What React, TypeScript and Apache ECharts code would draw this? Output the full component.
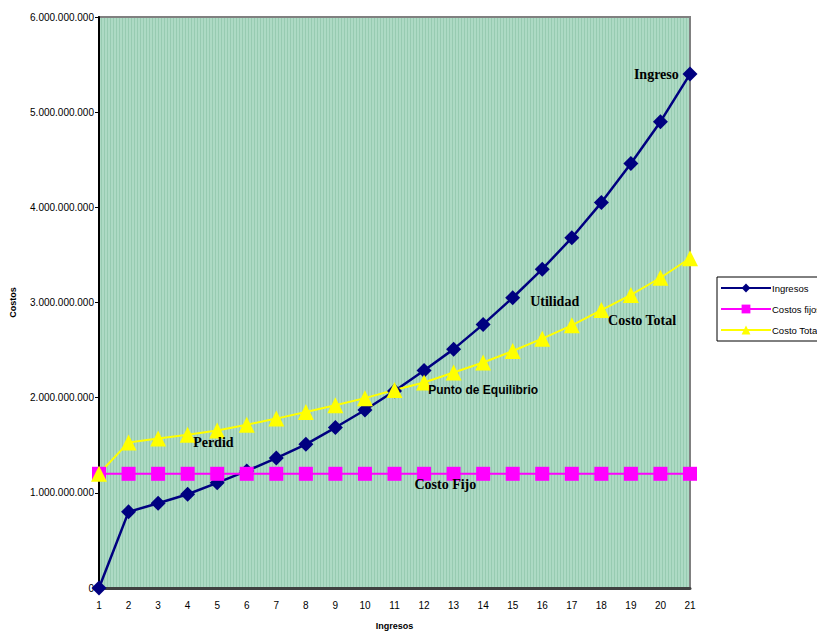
import React, { useEffect, useRef } from "react";
import * as echarts from "echarts";

// Period numbers on the horizontal axis
const periods = [1, 2, 3, 4, 5, 6, 7, 8, 9, 10, 11, 12, 13, 14, 15, 16, 17, 18, 19, 20, 21];

// Revenue per period
const ingresos = [
  0, 800000000, 890000000, 985000000, 1105000000, 1230000000, 1365000000, 1510000000,
  1686000000, 1870000000, 2070000000, 2285000000, 2510000000, 2770000000, 3050000000,
  3350000000, 3680000000, 4050000000, 4460000000, 4900000000, 5400000000,
];

// Fixed costs per period
const costosFijos = [
  1200000000, 1200000000, 1200000000, 1200000000, 1200000000, 1200000000, 1200000000,
  1200000000, 1200000000, 1200000000, 1200000000, 1200000000, 1200000000, 1200000000,
  1200000000, 1200000000, 1200000000, 1200000000, 1200000000, 1200000000, 1200000000,
];

// Total costs per period
const costoTotal = [
  1200000000, 1530000000, 1570000000, 1610000000, 1655000000, 1715000000, 1780000000,
  1850000000, 1920000000, 1995000000, 2080000000, 2160000000, 2265000000, 2370000000,
  2490000000, 2620000000, 2760000000, 2920000000, 3080000000, 3260000000, 3465000000,
];

// Text notes placed in data space: [label, x (period), y (value), font]
const notes: [string, number, number, string][] = [
  ["Ingreso", 19.86, 5400000000, "serif"],
  ["Utilidad", 16.42, 3010000000, "serif"],
  ["Costo Total", 19.38, 2810000000, "serif"],
  ["Punto de Equilibrio", 14.0, 2080000000, "sans"],
  ["Perdid", 4.87, 1530000000, "serif"],
  ["Costo Fijo", 12.72, 1086000000, "serif"],
];

const fmtThousands = (v: number) =>
  String(Math.round(v)).replace(/\B(?=(\d{3})+(?!\d))/g, ".");

// Fine vertical stripes for the plot background
function stripePattern(): HTMLCanvasElement {
  const c = document.createElement("canvas");
  c.width = 3;
  c.height = 4;
  const ctx = c.getContext("2d")!;
  ctx.fillStyle = "#addac4";
  ctx.fillRect(0, 0, 3, 4);
  ctx.fillStyle = "#97cbb1";
  ctx.fillRect(2, 0, 1, 4);
  return c;
}

export default function App() {
  const ref = useRef<HTMLDivElement>(null);

  useEffect(() => {
    if (!ref.current) return;
    const chart = echarts.init(ref.current, undefined, { renderer: "svg" });
    const sans = "Arial, 'Liberation Sans', sans-serif";
    const serif = "'Book Antiqua', Palatino, 'Liberation Serif', serif";

    let bg: any = "#a6d5bd";
    try {
      bg = { image: stripePattern(), repeat: "repeat" };
    } catch (e) {
      bg = "#a6d5bd";
    }

    chart.setOption({
      animation: false,
      backgroundColor: "#ffffff",
      grid: {
        left: 96,
        right: 127,
        top: 17,
        bottom: 38,
        show: true,
        backgroundColor: bg,
        borderColor: "#808080",
        borderWidth: 2,
      },
      legend: {
        orient: "vertical",
        left: 717,
        top: 277,
        borderColor: "#000000",
        borderWidth: 1,
        padding: [6, 8, 6, 3],
        itemGap: 11,
        itemWidth: 50,
        itemHeight: 11,
        textStyle: { fontSize: 9.5, fontFamily: sans, color: "#000", padding: [0, 0, 0, -4] },
        data: ["Ingresos", "Costos fijos", "Costo Total"],
      },
      xAxis: {
        type: "value",
        min: 1,
        max: 21,
        interval: 1,
        name: "Ingresos",
        nameLocation: "middle",
        nameGap: 33,
        nameTextStyle: { fontSize: 9, fontWeight: "bold", fontFamily: sans, color: "#000" },
        axisLine: { show: true, onZero: false, lineStyle: { color: "#404040", width: 3 } },
        axisTick: { show: false },
        splitLine: { show: false },
        axisLabel: { fontSize: 10, fontFamily: sans, color: "#000", margin: 12 },
      },
      yAxis: {
        type: "value",
        min: 0,
        max: 6000000000,
        interval: 1000000000,
        name: "Costos",
        nameLocation: "middle",
        nameGap: 82,
        nameRotate: 90,
        nameTextStyle: { fontSize: 9, fontWeight: "bold", fontFamily: sans, color: "#000" },
        axisLine: { show: true, lineStyle: { color: "#000000", width: 2 } },
        axisTick: { show: true, length: 4, lineStyle: { color: "#000" } },
        splitLine: { show: false },
        axisLabel: {
          fontSize: 10,
          fontFamily: sans,
          color: "#000",
          margin: 5,
          formatter: (v: number) => fmtThousands(v),
        },
      },
      series: [
        {
          name: "Ingresos",
          type: "line",
          data: periods.map((p, i) => [p, ingresos[i]]),
          symbol: "diamond",
          symbolSize: 15,
          itemStyle: { color: "#000080" },
          lineStyle: { color: "#000080", width: 2.5 },
        },
        {
          name: "Costos fijos",
          type: "line",
          data: periods.map((p, i) => [p, costosFijos[i]]),
          symbol: "rect",
          symbolSize: 14,
          itemStyle: { color: "#ff00ff" },
          lineStyle: { color: "#ff00ff", width: 2 },
        },
        {
          name: "Costo Total",
          type: "line",
          data: periods.map((p, i) => [p, costoTotal[i]]),
          symbol: "triangle",
          symbolSize: 16,
          itemStyle: { color: "#ffff00" },
          lineStyle: { color: "#ffff00", width: 2 },
        },
      ],
    });

    // Annotations anchored to data coordinates
    const graphic = notes.map(([text, x, y, kind]) => {
      const [px, py] = chart.convertToPixel({ gridIndex: 0 }, [x, y]) as number[];
      return {
        type: "text",
        x: px,
        y: py,
        z: 100,
        style: {
          text,
          align: "center",
          verticalAlign: "middle",
          fill: "#000",
          font: kind === "serif" ? `bold 14px ${serif}` : `bold 12px ${sans}`,
        },
      };
    });
    chart.setOption({ graphic });

    return () => chart.dispose();
  }, []);

  return (
    <div
      ref={ref}
      style={{ position: "absolute", left: 0, top: 0, width: 817, height: 635 }}
    />
  );
}
